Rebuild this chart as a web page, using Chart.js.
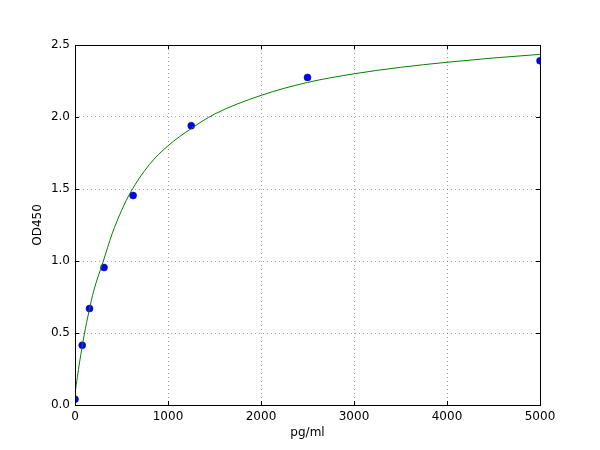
<!DOCTYPE html>
<html>
<head>
<meta charset="utf-8">
<script src="https://cdn.jsdelivr.net/npm/chart.js@4.4.1/dist/chart.umd.min.js"></script>
<style>
  html, body { margin: 0; padding: 0; background: #fff; }
  #wrap { width: 600px; height: 450px; }
</style>
</head>
<body>
<div id="wrap"><canvas id="myChart"></canvas></div>
<script>
// standard points
const concentrations = [0, 78, 156, 312, 625, 1250, 2500, 5000];
const odValues = [0.04, 0.415, 0.67, 0.955, 1.455, 1.94, 2.275, 2.39];

// fitted curve
const curveX = [0, 50, 100, 150, 200, 300, 400, 500, 600, 800, 1000, 1250, 1500, 2000, 2500, 3000, 3500, 4000, 4500, 5000];
const curveY = [0.08, 0.3, 0.49, 0.65, 0.79, 0.99, 1.19, 1.35, 1.48, 1.67, 1.8, 1.92, 2.02, 2.15, 2.24, 2.3, 2.345, 2.38, 2.41, 2.435];

const xTicks = [0, 1000, 2000, 3000, 4000, 5000];
const yTicks = [0, 0.5, 1.0, 1.5, 2.0, 2.5];

const font = { family: "DejaVu Sans", size: 12 };

// box round the plot and inward tick marks
const frame = {
  id: "frame",
  afterDatasetsDraw(chart) {
    const { ctx, chartArea: a, scales } = chart;
    ctx.save();
    ctx.strokeStyle = "#000";
    ctx.lineWidth = 1;
    ctx.beginPath();
    xTicks.forEach((v) => {
      const px = Math.round(scales.x.getPixelForValue(v)) + 0.5;
      ctx.moveTo(px, a.bottom); ctx.lineTo(px, a.bottom - 4);
      ctx.moveTo(px, a.top); ctx.lineTo(px, a.top + 4);
    });
    yTicks.forEach((v) => {
      const py = Math.round(scales.y.getPixelForValue(v)) + 0.5;
      ctx.moveTo(a.left, py); ctx.lineTo(a.left + 4, py);
      ctx.moveTo(a.right, py); ctx.lineTo(a.right - 4, py);
    });
    ctx.stroke();
    ctx.strokeRect(a.left + 0.5, a.top + 0.5, a.right - a.left, a.bottom - a.top);
    ctx.restore();
  },
};

new Chart(document.getElementById("myChart"), {
  type: "scatter",
  data: {
    datasets: [
      {
        label: "fit",
        data: curveX.map((x, i) => ({ x: x, y: curveY[i] })),
        showLine: true,
        borderColor: "#008000",
        borderWidth: 1,
        pointRadius: 0,
        cubicInterpolationMode: "monotone",
        clip: 0,
      },
      {
        label: "standards",
        data: concentrations.map((x, i) => ({ x: x, y: odValues[i] })),
        backgroundColor: "#0000ff",
        borderColor: "#00008b",
        borderWidth: 0.5,
        pointRadius: 3.5,
        clip: 0,
      },
    ],
  },
  options: {
    responsive: true,
    maintainAspectRatio: false,
    animation: false,
    layout: { padding: { left: 0, right: 60, top: 45, bottom: 0 } },
    plugins: {
      legend: { display: false },
      tooltip: { enabled: false },
    },
    scales: {
      x: {
        type: "linear",
        min: 0,
        max: 5000,
        afterFit: (s) => { s.height = 45; },
        afterBuildTicks: (s) => { s.ticks = xTicks.map((v) => ({ value: v })); },
        grid: { color: "rgba(0,0,0,0.6)", lineWidth: 0.6, drawTicks: false },
        border: { display: false, dash: [1, 3] },
        ticks: { font: font, color: "#000", padding: 5, maxRotation: 0, callback: (v) => String(v) },
        title: { display: true, text: "pg/ml", font: font, color: "#000", padding: { top: 0, bottom: 10 } },
      },
      y: {
        type: "linear",
        min: 0,
        max: 2.5,
        afterFit: (s) => { s.width = 75; },
        afterBuildTicks: (s) => { s.ticks = yTicks.map((v) => ({ value: v })); },
        grid: { color: "rgba(0,0,0,0.6)", lineWidth: 0.6, drawTicks: false },
        border: { display: false, dash: [1, 3] },
        ticks: { font: font, color: "#000", padding: 5, callback: (v) => Number(v).toFixed(1) },
        title: { display: true, text: "OD450", font: font, color: "#000", padding: { top: 31, bottom: 0 } },
      },
    },
  },
  plugins: [frame],
});
</script>
</body>
</html>
